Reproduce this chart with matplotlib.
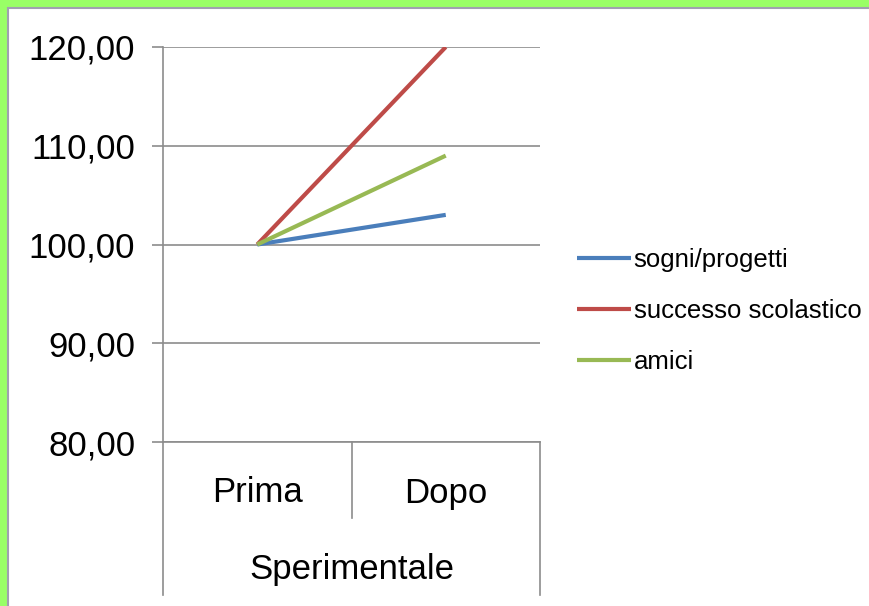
import matplotlib
matplotlib.use('Agg')
import matplotlib.pyplot as plt
from matplotlib.patches import Rectangle

plt.rcParams['font.family'] = ['Liberation Sans', 'DejaVu Sans']

categories = ['Prima', 'Dopo']
group_label = 'Sperimentale'
series_names = ['sogni/progetti', 'successo scolastico', 'amici']
series_values = [
    [100.0, 103.0],
    [100.0, 120.0],
    [100.0, 109.0],
]
series_colors = ['#4A7EBB', '#BE4B48', '#98B954']
y_ticks = [80, 90, 100, 110, 120]

fig = plt.figure(figsize=(8.7, 6.06), dpi=100)
fig.patch.set_facecolor('white')

# green frame on top and left, as in the screenshot
fig.patches.append(Rectangle((0, 0), 1, 1, transform=fig.transFigure,
                             facecolor='#99FF66', edgecolor='none', zorder=-10))
fig.patches.append(Rectangle((8 / 870, -0.05), 1.1, 1.05 - 8 / 606, transform=fig.transFigure,
                             facecolor='white', edgecolor='#A0A0B0', lw=1.5, zorder=-9))

ax = fig.add_axes([163 / 870, 1 - 442 / 606, 377 / 870, 395 / 606])
ax.set_facecolor('none')

xs = [0.5, 1.5]
for name, vals, col in zip(series_names, series_values, series_colors):
    ax.plot(xs, vals, color=col, lw=3, label=name, solid_capstyle='butt', zorder=3)

ax.set_xlim(0, 2)
ax.set_ylim(80, 120)
ax.set_yticks(y_ticks)
ax.set_yticklabels([f'{v:.2f}'.replace('.', ',') for v in y_ticks], fontsize=25)
ax.yaxis.grid(True, color='#8C8C8C', lw=1.2)
ax.set_axisbelow(True)
ax.tick_params(axis='y', length=8, width=1.2, color='#8C8C8C', pad=12)
ax.set_xticks([])
for s in ['top', 'right']:
    ax.spines[s].set_visible(False)
for s in ['left', 'bottom']:
    ax.spines[s].set_color('#8C8C8C')
    ax.spines[s].set_linewidth(1.2)

# category axis boxes
tr = ax.get_xaxis_transform()
ax_h = 395.0
ax.plot([0, 0], [0, -153 / ax_h], transform=tr, color='#8C8C8C', lw=1.2, clip_on=False)
ax.plot([2, 2], [0, -153 / ax_h], transform=tr, color='#8C8C8C', lw=1.2, clip_on=False)
ax.plot([1, 1], [0, -76 / ax_h], transform=tr, color='#8C8C8C', lw=1.2, clip_on=False)

for x, c in zip(xs, categories):
    ax.text(x, -51 / ax_h, c, transform=tr, ha='center', va='center', fontsize=25)
ax.text(1, -128 / ax_h, group_label, transform=tr, ha='center', va='center', fontsize=25)

fig.legend(loc='center left', bbox_to_anchor=(554 / 870, 1 - 311 / 606),
           frameon=False, fontsize=18.5, handlelength=2.1, handletextpad=0.1,
           labelspacing=1.05)

fig.savefig('out.png', dpi=100)
